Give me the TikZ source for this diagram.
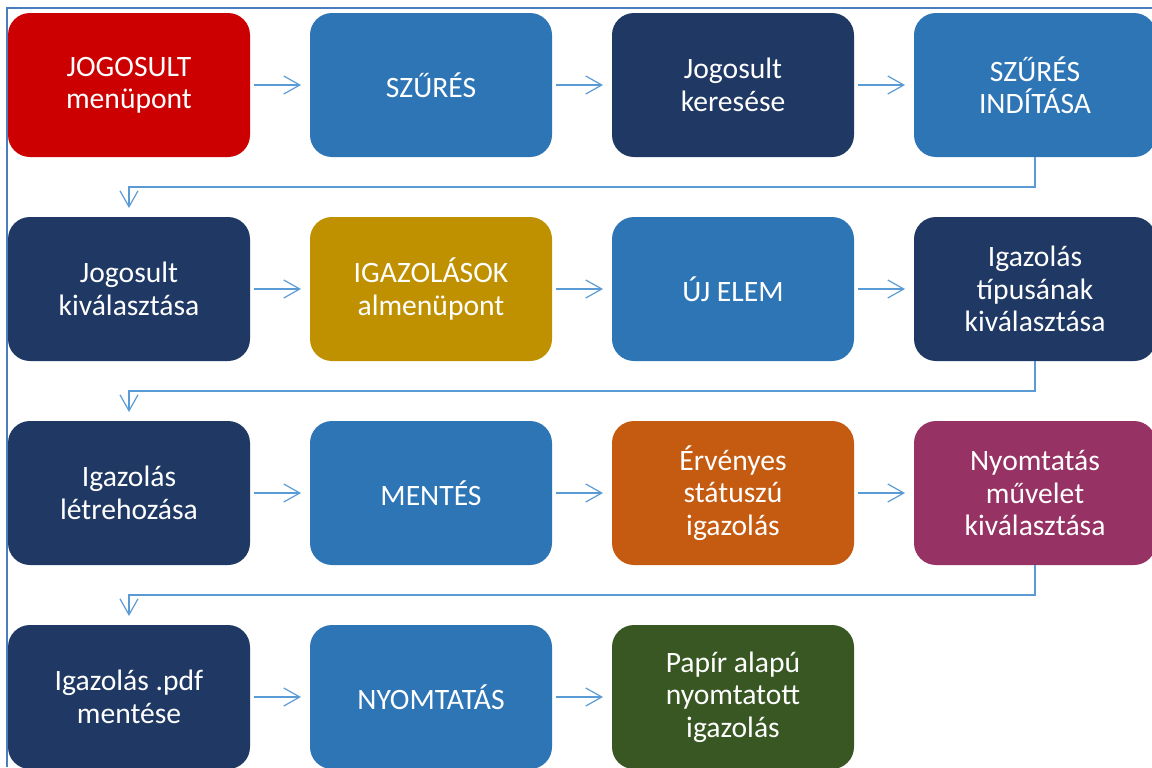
\documentclass[tikz,border=0pt]{standalone}
\usepackage{fontspec}
\setmainfont{Carlito}
\usepackage{tikz}
\usepackage{xcolor}
\usetikzlibrary{arrows.meta,positioning}
\definecolor{jred}{HTML}{CC0000}
\definecolor{midblue}{HTML}{2E75B6}
\definecolor{navy}{HTML}{1F3864}
\definecolor{gold}{HTML}{BF9000}
\definecolor{rust}{HTML}{C55A11}
\definecolor{plum}{HTML}{963264}
\definecolor{forest}{HTML}{385723}
\definecolor{arrowblue}{HTML}{5B9BD5}
\definecolor{frameblue}{HTML}{4A7EC0}

\begin{document}
\begin{tikzpicture}[
node distance=30pt and 30pt,
block/.style={rounded corners=11pt, minimum width=121pt, minimum height=72pt, align=center, text=white, inner sep=2pt, outer sep=0pt, font=\fontsize{14.8}{16.2}\selectfont},
arrow/.style={-{Straight Barb[length=8pt,width=9pt]}, line width=0.6pt, draw=arrowblue, shorten >=4.5pt},
frame/.style={draw=frameblue, line width=0.6pt}
]
\useasboundingbox (0,0) rectangle (576pt,-383.5pt);
\draw[frame] (3.5pt,-383.5pt) |- (576pt,-4pt);
\node[block, fill=jred] (s1) at (64.5pt,-42.5pt) {JOGOSULT\\menüpont};
\node[block, fill=midblue, right=of s1] (s2) {SZŰRÉS};
\node[block, fill=navy, right=of s2] (s3) {Jogosult\\keresése};
\node[block, fill=midblue, right=of s3] (s4) {SZŰRÉS\\INDÍTÁSA};
\node[block, fill=navy, below=of s1] (s5) {Jogosult\\kiválasztása};
\node[block, fill=gold, right=of s5] (s6) {IGAZOLÁSOK\\almenüpont};
\node[block, fill=midblue, right=of s6] (s7) {ÚJ ELEM};
\node[block, fill=navy, right=of s7] (s8) {Igazolás\\típusának\\kiválasztása};
\node[block, fill=navy, below=of s5] (s9) {Igazolás\\létrehozása};
\node[block, fill=midblue, right=of s9] (s10) {MENTÉS};
\node[block, fill=rust, right=of s10] (s11) {Érvényes\\státuszú\\igazolás};
\node[block, fill=plum, right=of s11] (s12) {Nyomtatás\\művelet\\kiválasztása};
\node[block, fill=navy, below=of s9] (s13) {Igazolás .pdf\\mentése};
\node[block, fill=midblue, right=of s13] (s14) {NYOMTATÁS};
\node[block, fill=forest, right=of s14] (s15) {Papír alapú\\nyomtatott\\igazolás};
\draw[arrow, shorten <=2pt] (s1) -- (s2);
\draw[arrow, shorten <=2pt] (s2) -- (s3);
\draw[arrow, shorten <=2pt] (s3) -- (s4);
\draw[arrow] (s4.south) -- ++(0,-15pt) -| (s5.north);
\draw[arrow, shorten <=2pt] (s5) -- (s6);
\draw[arrow, shorten <=2pt] (s6) -- (s7);
\draw[arrow, shorten <=2pt] (s7) -- (s8);
\draw[arrow] (s8.south) -- ++(0,-15pt) -| (s9.north);
\draw[arrow, shorten <=2pt] (s9) -- (s10);
\draw[arrow, shorten <=2pt] (s10) -- (s11);
\draw[arrow, shorten <=2pt] (s11) -- (s12);
\draw[arrow] (s12.south) -- ++(0,-15pt) -| (s13.north);
\draw[arrow, shorten <=2pt] (s13) -- (s14);
\draw[arrow, shorten <=2pt] (s14) -- (s15);
\end{tikzpicture}
\end{document}
